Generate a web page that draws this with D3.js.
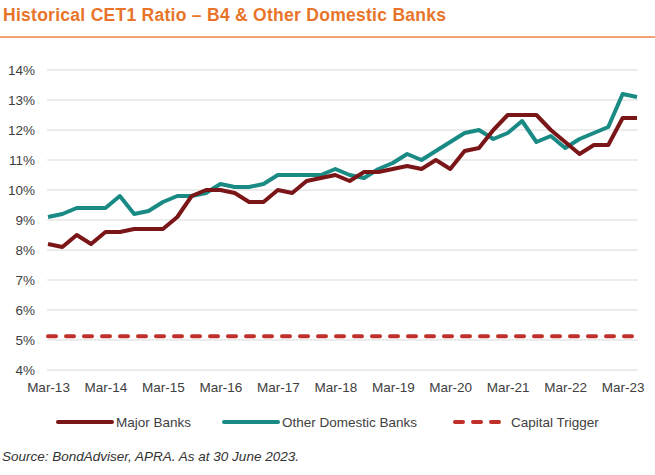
<!DOCTYPE html>
<html>
<head>
<meta charset="utf-8">
<script src="https://d3js.org/d3.v7.min.js"></script>
<style>
  body { margin: 0; background: #fff; }
  svg text { font-family: "Liberation Sans", Arial, sans-serif; }
</style>
</head>
<body>
<svg id="chart" width="655" height="475"></svg>
<script>
  // quarterly observations, Mar-13 .. Jun-23
  var quarters = ['Mar-13','Jun-13','Sep-13','Dec-13','Mar-14','Jun-14','Sep-14','Dec-14',
    'Mar-15','Jun-15','Sep-15','Dec-15','Mar-16','Jun-16','Sep-16','Dec-16',
    'Mar-17','Jun-17','Sep-17','Dec-17','Mar-18','Jun-18','Sep-18','Dec-18',
    'Mar-19','Jun-19','Sep-19','Dec-19','Mar-20','Jun-20','Sep-20','Dec-20',
    'Mar-21','Jun-21','Sep-21','Dec-21','Mar-22','Jun-22','Sep-22','Dec-22',
    'Mar-23','Jun-23'];

  var majorBanks = [8.2, 8.1, 8.5, 8.2, 8.6, 8.6, 8.7, 8.7,
    8.7, 9.1, 9.8, 10.0, 10.0, 9.9, 9.6, 9.6,
    10.0, 9.9, 10.3, 10.4, 10.5, 10.3, 10.6, 10.6,
    10.7, 10.8, 10.7, 11.0, 10.7, 11.3, 11.4, 12.0,
    12.5, 12.5, 12.5, 12.0, 11.6, 11.2, 11.5, 11.5,
    12.4, 12.4];

  var otherDomestic = [9.1, 9.2, 9.4, 9.4, 9.4, 9.8, 9.2, 9.3,
    9.6, 9.8, 9.8, 9.9, 10.2, 10.1, 10.1, 10.2,
    10.5, 10.5, 10.5, 10.5, 10.7, 10.5, 10.4, 10.7,
    10.9, 11.2, 11.0, 11.3, 11.6, 11.9, 12.0, 11.7,
    11.9, 12.3, 11.6, 11.8, 11.4, 11.7, 11.9, 12.1,
    13.2, 13.1];

  var capitalTrigger = 5.125;

  var yTicks = [4, 5, 6, 7, 8, 9, 10, 11, 12, 13, 14];
  var xTickLabels = ['Mar-13','Mar-14','Mar-15','Mar-16','Mar-17','Mar-18',
    'Mar-19','Mar-20','Mar-21','Mar-22','Mar-23'];

  var svg = d3.select('#chart');

  // title + rule underneath
  svg.append('text')
    .attr('x', 3)
    .attr('y', 21)
    .attr('font-size', 17.5)
    .attr('font-weight', 'bold')
    .attr('fill', '#E8742A')
    .attr('textLength', 443)
    .attr('lengthAdjust', 'spacing')
    .text('Historical CET1 Ratio \u2013 B4 & Other Domestic Banks');

  svg.append('line')
    .attr('x1', 0).attr('x2', 655)
    .attr('y1', 37).attr('y2', 37)
    .attr('stroke', '#F4A274')
    .attr('stroke-width', 2);

  var x = d3.scalePoint().domain(quarters).range([48, 637]);
  var y = d3.scaleLinear().domain([4, 14]).range([370, 70]);

  // gridlines
  svg.append('g')
    .selectAll('line')
    .data(yTicks)
    .enter()
    .append('line')
      .attr('x1', 47)
      .attr('x2', 638)
      .attr('y1', function(d) { return y(d); })
      .attr('y2', function(d) { return y(d); })
      .attr('stroke', '#d9d9d9')
      .attr('stroke-width', 1);

  // y axis labels
  var yAxis = svg.append('g')
    .attr('transform', 'translate(35,0)')
    .call(d3.axisLeft(y).tickValues(yTicks).tickSize(0).tickPadding(0)
      .tickFormat(function(d) { return d + '%'; }));
  yAxis.select('.domain').remove();
  yAxis.selectAll('text')
    .attr('font-size', 13.5)
    .attr('font-family', '"Liberation Sans", Arial, sans-serif')
    .attr('fill', '#404040');

  // x axis labels
  var xAxis = svg.append('g')
    .attr('transform', 'translate(0,382)')
    .call(d3.axisBottom(x).tickValues(xTickLabels).tickSize(0).tickPadding(0));
  xAxis.select('.domain').remove();
  xAxis.selectAll('text')
    .attr('font-size', 13.5)
    .attr('font-family', '"Liberation Sans", Arial, sans-serif')
    .attr('fill', '#404040');

  // capital trigger
  svg.append('line')
    .attr('x1', x(quarters[0]))
    .attr('x2', x(quarters[quarters.length - 1]))
    .attr('y1', y(capitalTrigger))
    .attr('y2', y(capitalTrigger))
    .attr('stroke', '#C0302B')
    .attr('stroke-width', 4)
    .attr('stroke-linecap', 'round')
    .attr('stroke-dasharray', '8,10');

  var line = d3.line()
    .x(function(d, i) { return x(quarters[i]); })
    .y(function(d) { return y(d); });

  svg.append('path')
    .datum(otherDomestic)
    .attr('d', line)
    .attr('fill', 'none')
    .attr('stroke', '#1A8A84')
    .attr('stroke-width', 4)
    .attr('stroke-linejoin', 'round');

  svg.append('path')
    .datum(majorBanks)
    .attr('d', line)
    .attr('fill', 'none')
    .attr('stroke', '#7B1618')
    .attr('stroke-width', 4)
    .attr('stroke-linejoin', 'round');

  // legend
  var legend = [
    { label: 'Major Banks', color: '#7B1618', dash: null, x: 58, w: 54, tx: 58 },
    { label: 'Other Domestic Banks', color: '#1A8A84', dash: null, x: 224, w: 54, tx: 58 },
    { label: 'Capital Trigger', color: '#C0302B', dash: '8,10', x: 455, w: 44, tx: 56 }
  ];

  var lg = svg.append('g')
    .selectAll('g')
    .data(legend)
    .enter()
    .append('g')
      .attr('transform', function(d) { return 'translate(' + d.x + ',422)'; });

  lg.append('line')
    .attr('x1', 0).attr('x2', function(d) { return d.w; })
    .attr('y1', 0).attr('y2', 0)
    .attr('stroke', function(d) { return d.color; })
    .attr('stroke-width', 4)
    .attr('stroke-linecap', 'round')
    .attr('stroke-dasharray', function(d) { return d.dash; });

  lg.append('text')
    .attr('x', function(d) { return d.tx; })
    .attr('y', 0)
    .attr('dy', '0.35em')
    .attr('font-size', 13.5)
    .attr('fill', '#404040')
    .text(function(d) { return d.label; });

  svg.append('text')
    .attr('x', 2)
    .attr('y', 461)
    .attr('font-size', 13.5)
    .attr('font-style', 'italic')
    .attr('fill', '#333')
    .text('Source: BondAdviser, APRA. As at 30 June 2023.');
</script>
</body>
</html>
